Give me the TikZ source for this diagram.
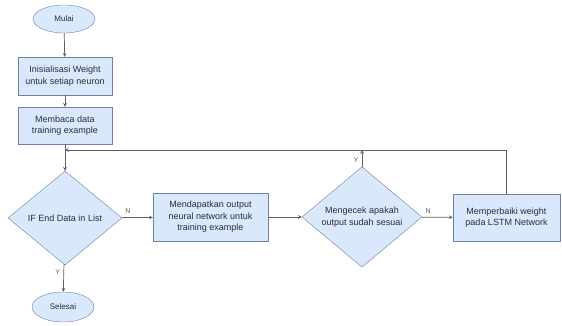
\documentclass[tikz,border=0pt]{standalone}
\usepackage{fontspec}
\setmainfont{Liberation Sans}
\usepackage{xcolor}
\usetikzlibrary{shapes.geometric, arrows, positioning}
\definecolor{flowfill}{RGB}{218, 232, 252}
\definecolor{flowborder}{RGB}{110, 128, 165}
\definecolor{flowline}{RGB}{95, 95, 95}
\definecolor{flowtext}{RGB}{40, 45, 60}

\begin{document}
\begin{tikzpicture}[
    x=1pt, y=-1pt,
    >=stealth,
    terminal/.style={
        ellipse,
        draw=flowborder,
        fill=flowfill,
        minimum width=62pt,
        minimum height=28pt,
        inner sep=0pt,
        text=flowtext,
        font=\fontsize{8}{10}\selectfont
    },
    process/.style={
        rectangle,
        draw=flowborder,
        fill=flowfill,
        align=center,
        inner sep=1pt,
        text=flowtext,
        font=\fontsize{9}{11.5}\selectfont
    },
    decision/.style={
        diamond,
        draw=flowborder,
        fill=flowfill,
        align=center,
        inner sep=0pt,
        text=flowtext,
        font=\fontsize{9}{11.5}\selectfont
    },
    flow/.style={
        draw=flowline,
        line width=0.7pt,
        ->
    },
    mylabel/.style={
        font=\fontsize{7}{8}\selectfont,
        text=flowline
    }
]

% Canvas
\useasboundingbox (0,0) rectangle (562,326);
\fill[white] (0,0) rectangle (562,326);

% Left column
\node[terminal] (start) at (64,19) {Mulai};
\node[process, minimum width=94pt, minimum height=38pt] (init) at (65,76) {Inisialisasi Weight\\untuk setiap neuron};
\node[process, minimum width=94pt, minimum height=37pt] (read) at (65,125.5) {Membaca data\\training example};
\node[decision, minimum width=114pt, minimum height=94pt] (endlist) at (65,218) {IF End Data in List};
\node[terminal, minimum height=30pt] (stop) at (63,307) {Selesai};

% Main row
\node[process, minimum width=115pt, minimum height=48pt] (output) at (210.5,217) {Mendapatkan output\\neural network untuk\\training example};
\node[decision, minimum width=120pt, minimum height=100pt] (check) at (362,217) {Mengecek apakah\\output sudah sesuai};
\node[process, minimum width=107pt, minimum height=47pt] (fix) at (506.5,217.5) {Memperbaiki weight\\pada LSTM Network};

% Loop points
\coordinate (loopin) at (65,150);
\coordinate (loopy) at (362,150);

% Connectors
\draw[flow] (start) -- (init);
\draw[flow] (init) -- (read);
\draw[flow] (read) -- (endlist);
\draw[flow] (endlist) -- node[mylabel, above, pos=0.2] {N} (output);
\draw[flow] (endlist) -- node[mylabel, left, pos=0.3] {Y} (stop);
\draw[flow] (output) -- (check);
\draw[flow] (check) -- node[mylabel, above, pos=0.2] {N} (fix);
\draw[flow] (check) -- node[mylabel, left, pos=0.4] {Y} (loopy);
\draw[flow] (fix.north) |- (loopin);

\end{tikzpicture}
\end{document}
